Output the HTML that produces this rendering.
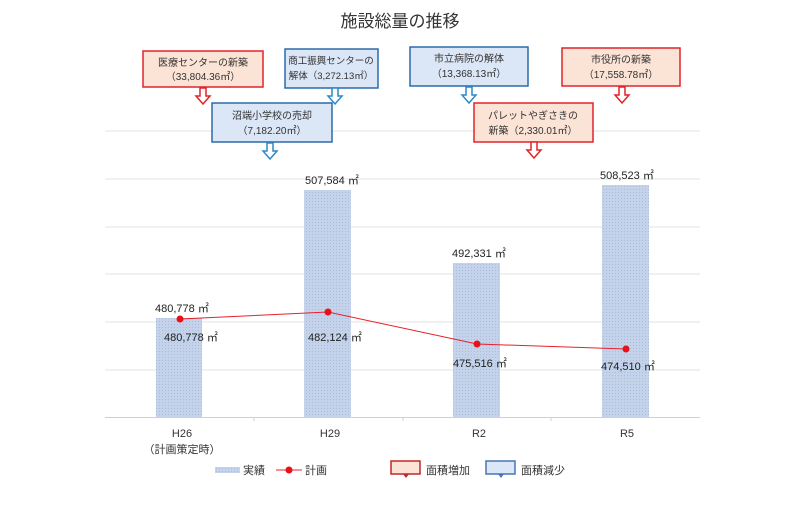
<!DOCTYPE html>
<html><head><meta charset="utf-8"><style>
html,body{margin:0;padding:0;background:#fff;}
svg text{font-family:"Liberation Sans","Noto Sans CJK JP",sans-serif;}
</style></head><body>
<svg width="800" height="501" viewBox="0 0 800 501" xmlns="http://www.w3.org/2000/svg">
<defs>
<pattern id="dots" width="3" height="3" patternUnits="userSpaceOnUse">
<rect width="3" height="3" fill="#c5d3ea"/><rect width="1" height="1" fill="#a9bde0"/>
</pattern>
</defs>
<text x="400" y="27" font-size="17" text-anchor="middle" fill="#333">施設総量の推移</text>
<g stroke="#e3e3e3" stroke-width="1">
<line x1="105" y1="131" x2="700" y2="131"/>
<line x1="105" y1="179" x2="700" y2="179"/>
<line x1="105" y1="227" x2="700" y2="227"/>
<line x1="105" y1="274" x2="700" y2="274"/>
<line x1="105" y1="322" x2="700" y2="322"/>
<line x1="105" y1="370" x2="700" y2="370"/>
</g>
<line x1="105" y1="417.5" x2="700" y2="417.5" stroke="#d0d0d0"/>
<g stroke="#d0d0d0"><line x1="254" y1="417" x2="254" y2="421"/><line x1="403" y1="417" x2="403" y2="421"/><line x1="551" y1="417" x2="551" y2="421"/></g>
<g fill="url(#dots)">
<rect x="156" y="318" width="46" height="99"/>
<rect x="304" y="190" width="47" height="227"/>
<rect x="453" y="263" width="47" height="154"/>
<rect x="602" y="185" width="47" height="232"/>
</g>
<polyline points="180,319 328,312 477,344 626,349" fill="none" stroke="#e8202a" stroke-width="1"/>
<g fill="#e8101a"><circle cx="180" cy="319" r="3.5"/><circle cx="328" cy="312" r="3.5"/><circle cx="477" cy="344" r="3.5"/><circle cx="626" cy="349" r="3.5"/></g>
<g font-size="11" fill="#222">
<text x="155" y="312">480,778 ㎡</text>
<text x="164" y="341">480,778 ㎡</text>
<text x="305" y="184">507,584 ㎡</text>
<text x="452" y="257">492,331 ㎡</text>
<text x="600" y="179">508,523 ㎡</text>
<text x="308" y="341">482,124 ㎡</text>
<text x="453" y="367">475,516 ㎡</text>
<text x="601" y="370">474,510 ㎡</text>
</g>
<g font-size="11" fill="#333" text-anchor="middle">
<text x="182" y="437">H26</text>
<text x="182" y="453">（計画策定時）</text>
<text x="330" y="437">H29</text>
<text x="479" y="437">R2</text>
<text x="627" y="437">R5</text>
</g>
<rect x="215" y="467" width="25" height="6" fill="url(#dots)"/>
<text x="243" y="474" font-size="11" fill="#333">実績</text>
<line x1="276" y1="470" x2="302" y2="470" stroke="#e8202a"/><circle cx="289" cy="470" r="3.5" fill="#e8101a"/>
<text x="305" y="474" font-size="11" fill="#333">計画</text>
<rect x="391" y="461" width="29" height="13" fill="#fbe3d6" stroke="#c0282d" stroke-width="1.5"/>
<path d="M403 474 L409 474 L406 478 Z" fill="#c0282d"/>
<text x="426" y="474" font-size="11" fill="#333">面積増加</text>
<rect x="486" y="461" width="29" height="13" fill="#dbe6f6" stroke="#4a75b5" stroke-width="1.5"/>
<path d="M498 474 L504 474 L501 478 Z" fill="#4a75b5"/>
<text x="521" y="474" font-size="11" fill="#333">面積減少</text>
<g font-size="10" fill="#333" text-anchor="middle">
<rect x="143" y="51" width="120" height="36" fill="#fbe3d6" stroke="#e0242a" stroke-width="1.5"/>
<text x="203" y="66">医療センターの新築</text><text x="203" y="80">（33,804.36㎡）</text>
<rect x="285" y="49" width="93" height="39" fill="#dbe6f6" stroke="#2d6aa8" stroke-width="1.5"/>
<text x="331" y="64" font-size="9.5">商工振興センターの</text><text x="331" y="79" font-size="9.5">解体（3,272.13㎡）</text>
<rect x="212" y="103" width="120" height="39" fill="#dbe6f6" stroke="#2d6aa8" stroke-width="1.5"/>
<text x="272" y="119">沼端小学校の売却</text><text x="272" y="134">（7,182.20㎡）</text>
<rect x="410" y="47" width="118" height="39" fill="#dbe6f6" stroke="#2d6aa8" stroke-width="1.5"/>
<text x="469" y="62">市立病院の解体</text><text x="469" y="77">（13,368.13㎡）</text>
<rect x="562" y="48" width="118" height="38" fill="#fbe3d6" stroke="#e0242a" stroke-width="1.5"/>
<text x="621" y="63">市役所の新築</text><text x="621" y="78">（17,558.78㎡）</text>
<rect x="474" y="103" width="119" height="39" fill="#fbe3d6" stroke="#e0242a" stroke-width="1.5"/>
<text x="533" y="119">パレットやぎさきの</text><text x="533" y="134">新築（2,330.01㎡）</text>
</g>
<g fill="#fff" stroke-width="1.5">
<path d="M200 88 h6 v8 h4 l-7 8 l-7 -8 h4 z" stroke="#e0242a"/>
<path d="M332 88 h6 v8 h4 l-7 8 l-7 -8 h4 z" stroke="#2d8ac8"/>
<path d="M267 143 h6 v8 h4 l-7 8 l-7 -8 h4 z" stroke="#2d8ac8"/>
<path d="M466 87 h6 v8 h4 l-7 8 l-7 -8 h4 z" stroke="#2d8ac8"/>
<path d="M619 87 h6 v8 h4 l-7 8 l-7 -8 h4 z" stroke="#e0242a"/>
<path d="M531 142 h6 v8 h4 l-7 8 l-7 -8 h4 z" stroke="#e0242a"/>
</g>
</svg>
</body></html>
